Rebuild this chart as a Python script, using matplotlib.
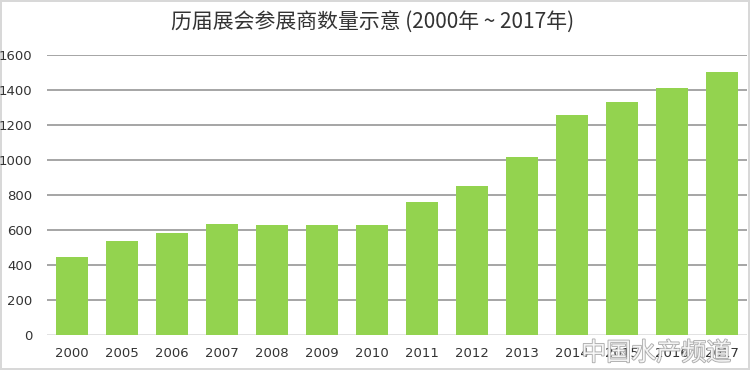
import matplotlib.pyplot as plt
import matplotlib.patheffects as pe
import numpy as np

# data
years = ['2000', '2005', '2006', '2007', '2008', '2009', '2010',
         '2011', '2012', '2013', '2014', '2015', '2016', '2017']
exhibitors = [447, 537, 581, 634, 627, 630, 627,
              760, 850, 1018, 1260, 1330, 1410, 1505]
yticks = [0, 200, 400, 600, 800, 1000, 1200, 1400, 1600]

titlestr = '历届展会参展商数量示意 (2000年 ~ 2017年)'

plt.rcParams['font.family'] = ['Noto Sans CJK SC', 'DejaVu Sans']

fig = plt.figure(figsize=(7.5, 3.7), dpi=100)
fig.patch.set_edgecolor('#d8d8d8')
fig.patch.set_linewidth(1.5)
ax = fig.add_axes([0.062, 0.095, 0.934, 0.756])

x = np.arange(len(years))
ax.bar(x, exhibitors, width=0.64, color='#93D34F', zorder=3)

# gridlines
for yv in yticks[1:]:
    ax.axhline(yv, color='#969696', linewidth=1.2, zorder=1)
ax.axhline(0, color='#dddddd', linewidth=1.2, zorder=2)

ax.set_xlim(-0.5, len(years) - 0.5)
ax.set_ylim(0, 1600)
ax.set_xticks(x)
ax.set_xticklabels(years, family='DejaVu Sans')
ax.set_yticks(yticks)
ax.set_yticklabels([str(v) for v in yticks], family='DejaVu Sans')
ax.tick_params(axis='both', length=0, labelsize=9.5, colors='#333333')
ax.tick_params(axis='x', pad=9)
ax.tick_params(axis='y', pad=10)
for s in ax.spines.values():
    s.set_visible(False)

fig.text(0.497, 0.94, titlestr, ha='center', va='center', fontsize=15, color='#333333')

# watermark in the bottom right corner (over the last tick labels, as in the source)
wm = fig.text(0.875, 0.045, '中国水产频道', ha='center', va='center', fontsize=18,
              color='white', alpha=0.85, style='italic')
wm.set_path_effects([pe.withStroke(linewidth=1.2, foreground='#9a9a9a')])

plt.savefig('out.png', dpi=100)
